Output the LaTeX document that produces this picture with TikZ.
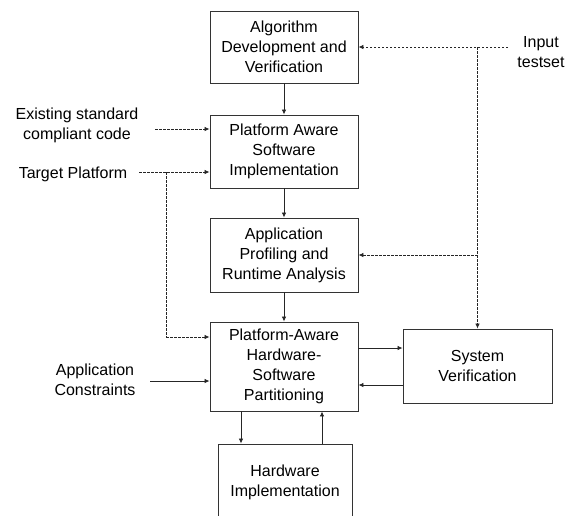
\documentclass[tikz,border=0pt]{standalone}
\usepackage{fontspec}
\setmainfont{Liberation Sans}
\usetikzlibrary{arrows.meta}
\begin{document}
\begin{tikzpicture}[x=1pt,y=-1pt,
  every node/.style={font=\fontsize{16}{20}\selectfont, align=center, inner sep=0pt},
  box/.style={draw=black!80, line width=0.9pt, minimum width=148pt},
  lbl/.style={},
  conn/.style={draw=black!85, line width=0.8pt, -{Latex[length=5pt,width=4.5pt]}},
  dconn/.style={conn, dash pattern=on 2.5pt off 1.5pt},
  dline/.style={draw=black!85, line width=0.8pt, dash pattern=on 2.5pt off 1.5pt}]
\useasboundingbox (0,0) rectangle (575,515);

% main column
\node[box, minimum height=72pt] (alg) at (284,47) {Algorithm\\Development and\\Verification};
\node[box, minimum height=73pt] (sw) at (284,151.5) {Platform Aware\\Software\\Implementation};
\node[box, minimum height=74pt] (prof) at (284,255) {Application\\Profiling and\\Runtime Analysis};
\node[box, minimum height=89pt] (part) at (284,366.5) {Platform-Aware\\Hardware-\\Software\\Partitioning};
\node[box, minimum width=149pt, minimum height=74pt] (sysv) at (477.5,366) {System\\Verification};
\node[box, minimum width=134pt, minimum height=76pt] (hw) at (285,482) {Hardware\\Implementation};

% labels
\node[lbl] (inp) at (541,52) {Input\\testset};
\node[lbl] (exist) at (77,125.5) {Existing standard\\compliant code};
\node[lbl] (targ) at (73,174) {Target Platform};
\node[lbl] (appc) at (95,380) {Application\\Constraints};

% helper coordinates
\coordinate (inS) at (508,47);
\coordinate (jn1) at (477.5,47);
\coordinate (jn2) at (477.5,255);
\coordinate (exS) at (155,129);
\coordinate (tgS) at (139,172);
\coordinate (tgJ) at (166,172);
\coordinate (tgC) at (166,337);
\coordinate (apS) at (150,381);

% main flow
\draw[conn] (alg.south) -- (sw.north);
\draw[conn] (sw.south) -- (prof.north);
\draw[conn] (prof.south) -- (part.north);

% input testset
\draw[dconn] (inS) -- (alg.east |- inS);
\draw[dline] (jn1) -- (jn2);
\draw[dconn] (jn2) -- (prof.east |- jn2);
\draw[dconn] (jn2) -- (sysv.north);

% left inputs
\draw[dconn] (exS) -- (sw.west |- exS);
\draw[dconn] (tgS) -- (sw.west |- tgS);
\draw[dline] (tgJ) -- (tgC);
\draw[dconn] (tgC) -- (part.west |- tgC);
\draw[conn] (apS) -- (part.west |- apS);

% partitioning <-> system verification
\draw[conn] (part.east |- 0,348) -- (sysv.west |- 0,348);
\draw[conn] (sysv.west |- 0,385) -- (part.east |- 0,385);

% partitioning <-> hardware
\draw[conn] (part.south -| 241,0) -- (hw.north -| 241,0);
\draw[conn] (hw.north -| 322,0) -- (part.south -| 322,0);
\end{tikzpicture}
\end{document}
